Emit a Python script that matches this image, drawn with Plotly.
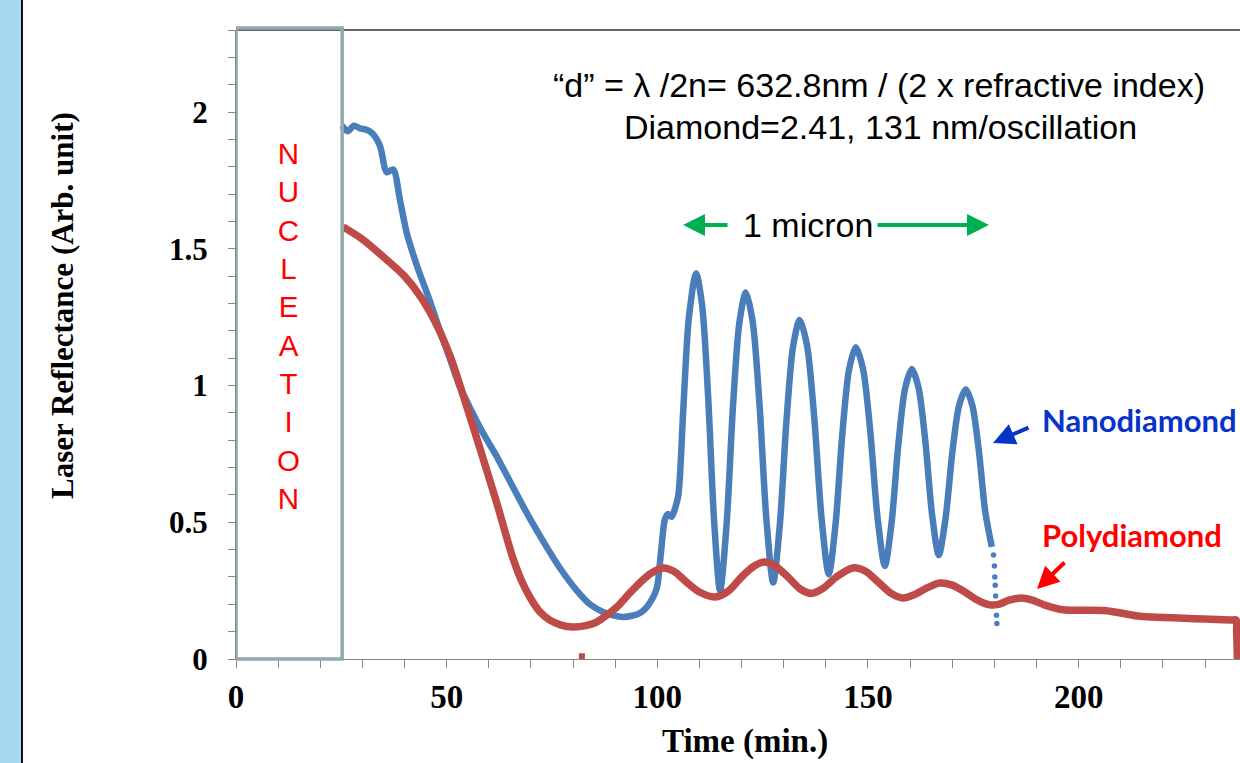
import plotly.graph_objects as go

# ---------------- data ----------------
nano_t = [25.2, 26.5, 28, 29.5, 31, 32.5, 34.2, 35.8, 37.3, 38.9, 40.5, 42.9, 46,
          48.4, 50.5, 53, 55.5, 58.5, 61.9, 65, 68.1, 71, 74.5, 77, 80.9, 84, 87.1,
          89.5, 91.8, 94, 95.9, 97.5, 98.8, 99.9, 100.8, 101.8, 102.5, 103.4, 104.2, 105,
          106.2, 107.5, 109.2, 110.63, 112.05, 113.48, 114.9,
          116.43, 117.95, 119.48, 121.0, 122.63, 124.25, 125.88, 127.5,
          129.08, 130.65, 132.23, 133.8, 135.53, 137.25, 138.98, 140.7,
          142.3, 143.9, 145.5, 147.1, 148.83, 150.55, 152.28, 154.0,
          155.6, 157.2, 158.8, 160.4, 162.0, 163.6, 165.2, 166.8,
          168.4, 170.0, 171.6, 173.2, 174.75, 176.3, 177.85, 179.4]
nano_y = [1.95, 1.93, 1.95, 1.94, 1.935, 1.92, 1.875, 1.78, 1.79, 1.68, 1.56, 1.44, 1.31,
          1.20, 1.11, 1.00, 0.92, 0.83, 0.74, 0.65, 0.56, 0.48, 0.39, 0.33, 0.25, 0.20, 0.172,
          0.16, 0.154, 0.158, 0.168, 0.19, 0.22, 0.26, 0.38, 0.51, 0.53, 0.52, 0.55, 0.60,
          0.924, 1.25, 1.41, 1.294, 0.963, 0.505, 0.25,
          0.49, 0.92, 1.231, 1.34, 1.234, 0.932, 0.513, 0.28,
          0.491, 0.87, 1.144, 1.24, 1.147, 0.882, 0.515, 0.31,
          0.493, 0.82, 1.057, 1.14, 1.06, 0.832, 0.516, 0.34,
          0.498, 0.783, 0.988, 1.06, 0.992, 0.798, 0.53, 0.38,
          0.513, 0.752, 0.925, 0.985, 0.928, 0.764, 0.537, 0.41]
nano_tail_t = [179.8, 180.0, 180.1, 180.2, 180.3, 180.4, 180.5, 180.6]
nano_tail_y = [0.38, 0.34, 0.30, 0.27, 0.23, 0.20, 0.16, 0.13]

poly_t = [25.4, 30, 35, 40, 44, 48, 51, 54, 57.9, 61.9, 65.7, 67.8, 69.8, 72, 74.5, 77,
          80, 83, 85.6, 88, 90.4, 94, 98.2, 101.3, 104, 107, 110, 113.7, 117, 120, 123,
          125.5, 128, 131, 134, 136.7, 139.5, 142.5, 146.4, 149.5, 152.5, 155.5, 158.3,
          161, 164, 167, 170, 173, 176, 178.9, 181, 183.5, 186.5, 189, 192, 196.3, 201,
          206, 210, 214.5, 220, 225, 230, 236.6, 237.4, 237.5, 237.6, 237.7]
poly_y = [1.58, 1.535, 1.47, 1.40, 1.32, 1.21, 1.10, 0.96, 0.77, 0.57, 0.37, 0.285, 0.225,
          0.175, 0.142, 0.125, 0.117, 0.122, 0.135, 0.16, 0.19, 0.25, 0.31, 0.333, 0.32,
          0.28, 0.245, 0.227, 0.25, 0.30, 0.34, 0.355, 0.34, 0.30, 0.255, 0.24, 0.26, 0.30,
          0.333, 0.32, 0.28, 0.24, 0.223, 0.235, 0.26, 0.278, 0.27, 0.245, 0.215, 0.198,
          0.20, 0.215, 0.223, 0.215, 0.197, 0.18, 0.178, 0.177, 0.168, 0.156, 0.152, 0.149,
          0.146, 0.143, 0.142, 0.10, 0.05, 0.0]
poly_stray_t = [82.1]
poly_stray_y = [0.01]

x_ticks = [0, 50, 100, 150, 200]
y_ticks = [0, 0.5, 1, 1.5, 2]
nucleation_end = 25.2

# ---------------- figure ----------------
W, H = 1240, 763
L, R, T, B = 236, 0, 30, 104
PW, PH = W - L - R, H - T - B


def xp(px):
    return (px - L) / PW


def yp(py):
    return (H - B - py) / PH


BLUE = "#4a7ebb"
RED = "#be4b48"
GREY = "#868686"
SERIF = "Liberation Serif"
SANS = "Liberation Sans"

fig = go.Figure()
fig.add_trace(go.Scatter(x=nano_t, y=nano_y, mode="lines", name="Nanodiamond",
                         line=dict(color=BLUE, width=6.5, shape="spline", smoothing=0.8)))
fig.add_trace(go.Scatter(x=nano_tail_t, y=nano_tail_y, mode="markers", showlegend=False,
                         marker=dict(color=BLUE, size=5.5)))
fig.add_trace(go.Scatter(x=poly_t, y=poly_y, mode="lines", name="Polydiamond",
                         line=dict(color=RED, width=7.5, shape="spline", smoothing=0.8)))
fig.add_trace(go.Scatter(x=poly_stray_t, y=poly_stray_y, mode="markers", showlegend=False,
                         marker=dict(color=RED, size=6, symbol="square")))

shapes = [
    # slide background bar on the left
    dict(type="rect", xref="paper", yref="paper", x0=xp(0), x1=xp(21), y0=yp(H), y1=yp(0),
         fillcolor="#a8d9f2", line=dict(width=0), layer="below"),
    dict(type="line", xref="paper", yref="paper", x0=xp(22), x1=xp(22), y0=yp(H), y1=yp(0),
         line=dict(color="#111111", width=2)),
    # top border of plot
    dict(type="line", xref="paper", yref="paper", x0=0, x1=1, y0=1, y1=1,
         line=dict(color="#333333", width=1.5)),
    # nucleation box
    dict(type="rect", xref="x", yref="paper", x0=0, x1=nucleation_end, y0=0, y1=yp(28),
         line=dict(color="#8eaaae", width=3.5), fillcolor="rgba(0,0,0,0)", layer="above"),
]

annotations = [
    dict(text="N<br>U<br>C<br>L<br>E<br>A<br>T<br>I<br>O<br>N", x=xp(288), y=yp(326),
         xref="paper", yref="paper", showarrow=False, xanchor="center", yanchor="middle",
         font=dict(family=SANS, size=29.5, color="#ff0000")),
    dict(text="“d” = λ /2n= 632.8nm / (2 x refractive index)", x=xp(879), y=yp(85),
         xref="paper", yref="paper", showarrow=False, xanchor="center", yanchor="middle",
         font=dict(family=SANS, size=34, color="#000000")),
    dict(text="Diamond=2.41, 131 nm/oscillation", x=xp(880), y=yp(127),
         xref="paper", yref="paper", showarrow=False, xanchor="center", yanchor="middle",
         font=dict(family=SANS, size=34, color="#000000")),
    dict(text="1 micron", x=xp(808), y=yp(225),
         xref="paper", yref="paper", showarrow=False, xanchor="center", yanchor="middle",
         font=dict(family=SANS, size=34, color="#000000")),
    # green arrows
    dict(text="", x=xp(683), y=yp(225), xref="paper", yref="paper", showarrow=True,
         ax=46, ay=0, arrowhead=2, arrowsize=1.1, arrowwidth=4, arrowcolor="#00b050"),
    dict(text="", x=xp(989), y=yp(225), xref="paper", yref="paper", showarrow=True,
         ax=-113, ay=0, arrowhead=2, arrowsize=1.1, arrowwidth=4, arrowcolor="#00b050"),
    # series labels
    dict(text="<b>Nanodiamond</b>", x=xp(1040), y=yp(420), xref="paper", yref="paper",
         showarrow=False, xanchor="left", yanchor="middle",
         font=dict(family="Lato", size=31, color="#0633c8")),
    dict(text="", x=xp(993), y=yp(443), xref="paper", yref="paper", showarrow=True,
         ax=37, ay=-16, arrowhead=2, arrowsize=1.1, arrowwidth=4, arrowcolor="#0633c8"),
    dict(text="<b>Polydiamond</b>", x=xp(1040), y=yp(535), xref="paper", yref="paper",
         showarrow=False, xanchor="left", yanchor="middle",
         font=dict(family="Lato", size=31, color="#ff0000")),
    dict(text="", x=xp(1037), y=yp(589), xref="paper", yref="paper", showarrow=True,
         ax=29, ay=-28, arrowhead=2, arrowsize=1.1, arrowwidth=4, arrowcolor="#ff0000"),
    # axis titles
    dict(text="<b>Time (min.)</b>", x=xp(745), y=yp(741), xref="paper", yref="paper",
         showarrow=False, xanchor="center", yanchor="middle",
         font=dict(family=SERIF, size=33, color="#000000")),
    dict(text="<b>Laser Reflectance (Arb. unit)</b>", x=xp(62), y=yp(306), xref="paper",
         yref="paper", showarrow=False, xanchor="center", yanchor="middle", textangle=-90,
         font=dict(family=SERIF, size=31, color="#000000")),
]

fig.update_layout(
    width=W, height=H,
    margin=dict(l=L, r=R, t=T, b=B, pad=0),
    paper_bgcolor="white", plot_bgcolor="white",
    showlegend=False,
    shapes=shapes, annotations=annotations,
    xaxis=dict(range=[0, 238.3], tickvals=x_ticks, ticktext=[str(v) for v in x_ticks],
               showgrid=False, zeroline=False, showline=True, linecolor=GREY, linewidth=1.2,
               ticks="outside", ticklen=8, tickcolor=GREY, tickwidth=1,
               minor=dict(dtick=10, ticks="outside", ticklen=8, tickcolor=GREY, showgrid=False),
               tickfont=dict(family=SERIF, size=33, color="#000000", weight="bold")),
    yaxis=dict(range=[0, 2.3], tickvals=y_ticks, ticktext=["0", "0.5", "1", "1.5", "2"],
               showgrid=False, zeroline=False, showline=True, linecolor=GREY, linewidth=1.2,
               ticks="outside", ticklen=7, tickcolor=GREY, tickwidth=1, ticklabelstandoff=14,
               minor=dict(dtick=0.1, ticks="outside", ticklen=7, tickcolor=GREY, showgrid=False),
               tickfont=dict(family=SERIF, size=31, color="#000000", weight="bold")),
)

fig.write_html("out.html")
